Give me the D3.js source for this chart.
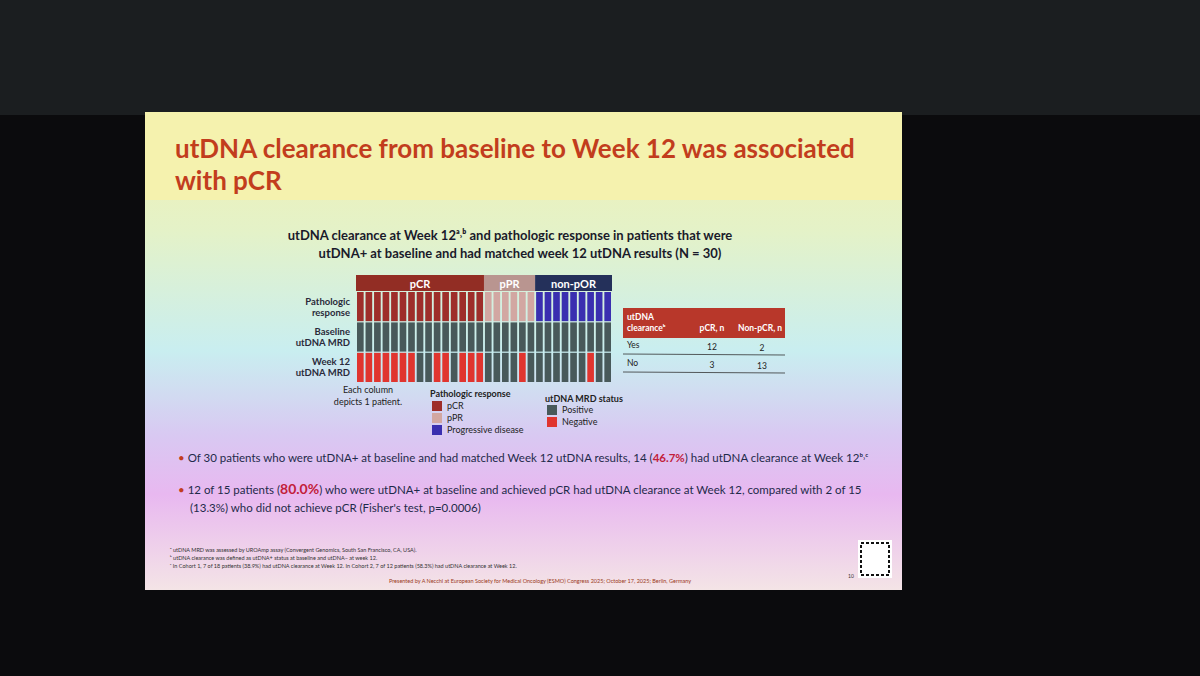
<!DOCTYPE html>
<html><head><meta charset="utf-8">
<script src="https://cdn.jsdelivr.net/npm/d3@7"></script>
<style>body{margin:0;background:#0b0b0d}</style>
</head><body>
<div id="chart"></div>
<script>
// Data
const groups = ["pCR", "pPR", "non-pOR"];
const groupCounts = [15, 6, 9];
const rows = ["Pathologic response", "Baseline utDNA MRD", "Week 12 utDNA MRD"];
// week 12 status per patient: 1 = negative (cleared), 0 = positive
const week12Negative = [1,1,1,1,1,1,1,0,0,1,1,0,1,1,1, 0,0,0,0,1,0, 0,0,0,0,0,0,1,0,0];
const tableHeader = ["utDNA clearance\u1D47", "pCR, n", "Non-pCR, n"];
const tableRows = [["Yes", 12, 2], ["No", 3, 13]];

const W = 1200, H = 676;
const svg = d3.select("#chart").append("svg").attr("width", W).attr("height", H)
  .style("font-family", "Lato, 'Open Sans', sans-serif");

const defs = svg.append("defs");
const grad = defs.append("linearGradient").attr("id", "bg").attr("x1", 0).attr("y1", 0).attr("x2", 0).attr("y2", 1);
[["0%", "#f3f0b0"], ["25%", "#e4f2c8"], ["50%", "#c9eef0"], ["68%", "#d9c8f2"], ["80%", "#e8b8f0"], ["100%", "#f4e4e6"]]
  .forEach(s => grad.append("stop").attr("offset", s[0]).attr("stop-color", s[1]));

// screen & slide
svg.append("rect").attr("width", W).attr("height", 115).attr("fill", "#1b1e20");
const slide = { x: 145, y: 112, w: 757, h: 478 };
svg.append("rect").attr("x", slide.x).attr("y", slide.y).attr("width", slide.w).attr("height", slide.h).attr("fill", "url(#bg)");
svg.append("rect").attr("x", slide.x).attr("y", slide.y).attr("width", slide.w).attr("height", 88).attr("fill", "#f5f2ae");

svg.append("text").attr("x", 175).attr("y", 158).attr("fill", "#c23d1d").attr("font-size", 26).attr("font-weight", "bold")
  .text("utDNA clearance from baseline to Week 12 was associated");
svg.append("text").attr("x", 175).attr("y", 190).attr("fill", "#c23d1d").attr("font-size", 26).attr("font-weight", "bold")
  .text("with pCR");

svg.append("text").attr("x", 510).attr("y", 240).attr("text-anchor", "middle").attr("font-size", 13).attr("font-weight", "bold").attr("fill", "#1a1a2a")
  .text("utDNA clearance at Week 12\u1D43\u02D2\u1D47 and pathologic response in patients that were");
svg.append("text").attr("x", 520).attr("y", 258).attr("text-anchor", "middle").attr("font-size", 13).attr("font-weight", "bold").attr("fill", "#1a1a2a")
  .text("utDNA+ at baseline and had matched week 12 utDNA results (N = 30)");

// heatmap
const patients = [];
groups.forEach((g, gi) => { for (let i = 0; i < groupCounts[gi]; i++) patients.push({ group: g, idx: patients.length }); });
patients.forEach(p => p.neg = week12Negative[p.idx]);

const x = d3.scaleBand().domain(d3.range(patients.length)).range([357, 611]).paddingInner(0.22);
const y = d3.scaleBand().domain(rows).range([292, 382]).paddingInner(0.04);
const respColors = { "pCR": "#9e2e2a", "pPR": "#d2a7a2", "non-pOR": "#3a2fb0" };
const headColors = { "pCR": "#922d24", "pPR": "#b99590", "non-pOR": "#24305a" };

// group header bars
let start = 0;
groups.forEach((g, gi) => {
  const x0 = x(start), x1 = x(start + groupCounts[gi] - 1) + x.bandwidth();
  svg.append("rect").attr("x", x0 - 1).attr("y", 275).attr("width", x1 - x0 + 2).attr("height", 16).attr("fill", headColors[g]);
  svg.append("text").attr("x", (x0 + x1) / 2).attr("y", 288).attr("text-anchor", "middle").attr("fill", "#fff")
    .attr("font-size", 11).attr("font-weight", "bold").text(g);
  start += groupCounts[gi];
});

const rowFill = [
  p => respColors[p.group],
  p => "#48595a",
  p => p.neg ? "#e0352f" : "#48595a"
];
rows.forEach((r, ri) => {
  svg.append("g").selectAll("rect").data(patients).join("rect")
    .attr("x", p => x(p.idx)).attr("y", y(r)).attr("width", x.bandwidth()).attr("height", y.bandwidth())
    .style("fill", rowFill[ri]);
});

const rowLabels = [["Pathologic", "response"], ["Baseline", "utDNA MRD"], ["Week 12", "utDNA MRD"]];
rows.forEach((r, i) => {
  const t = svg.append("text").attr("x", 350).attr("y", y(r) + y.bandwidth() / 2 - 2).attr("text-anchor", "end")
    .attr("font-size", 9.5).attr("font-weight", "bold").attr("fill", "#2a2a3a");
  t.append("tspan").attr("x", 350).text(rowLabels[i][0]);
  t.append("tspan").attr("x", 350).attr("dy", 11).text(rowLabels[i][1]);
});

// legends
svg.append("text").attr("x", 368).attr("y", 393).attr("text-anchor", "middle").attr("font-size", 9).attr("fill", "#222")
  .text("Each column");
svg.append("text").attr("x", 368).attr("y", 405).attr("text-anchor", "middle").attr("font-size", 9).attr("fill", "#222")
  .text("depicts 1 patient.");
svg.append("text").attr("x", 430).attr("y", 397).attr("font-size", 9).attr("font-weight", "bold").attr("fill", "#222").text("Pathologic response");
[["pCR", "#9e2e2a"], ["pPR", "#d2a7a2"], ["Progressive disease", "#3a2fb0"]].forEach((d, i) => {
  svg.append("rect").attr("x", 432).attr("y", 401 + i * 12).attr("width", 10).attr("height", 10).attr("fill", d[1]);
  svg.append("text").attr("x", 447).attr("y", 409 + i * 12).attr("font-size", 9).attr("fill", "#222").text(d[0]);
});
svg.append("text").attr("x", 545).attr("y", 402).attr("font-size", 9).attr("font-weight", "bold").attr("fill", "#222").text("utDNA MRD status");
[["Positive", "#48595a"], ["Negative", "#e0352f"]].forEach((d, i) => {
  svg.append("rect").attr("x", 547).attr("y", 405 + i * 12).attr("width", 10).attr("height", 10).attr("fill", d[1]);
  svg.append("text").attr("x", 562).attr("y", 413 + i * 12).attr("font-size", 9).attr("fill", "#222").text(d[0]);
});

// table
const tw = 162;
svg.append("rect").attr("x", 623).attr("y", 308).attr("width", tw).attr("height", 30).attr("fill", "#b8372a");
svg.append("text").attr("x", 627).attr("y", 320).attr("font-size", 8.5).attr("font-weight", "bold").attr("fill", "#fff").text("utDNA");
svg.append("text").attr("x", 627).attr("y", 331).attr("font-size", 8.5).attr("font-weight", "bold").attr("fill", "#fff").text("clearance\u1D47");
svg.append("text").attr("x", 712).attr("y", 331).attr("text-anchor", "middle").attr("font-size", 8.5).attr("font-weight", "bold").attr("fill", "#fff").text(tableHeader[1]);
svg.append("text").attr("x", 760).attr("y", 331).attr("text-anchor", "middle").attr("font-size", 8.5).attr("font-weight", "bold").attr("fill", "#fff").text(tableHeader[2]);
tableRows.forEach((r, i) => {
  const yy = 348 + i * 18;
  svg.append("text").attr("x", 627).attr("y", yy).attr("font-size", 8.5).attr("fill", "#222").text(r[0]);
  svg.append("text").attr("x", 712).attr("y", yy + 2).attr("text-anchor", "middle").attr("font-size", 8.5).attr("fill", "#222").text(r[1]);
  svg.append("text").attr("x", 762).attr("y", yy + 3).attr("text-anchor", "middle").attr("font-size", 8.5).attr("fill", "#222").text(r[2]);
  svg.append("line").attr("x1", 623).attr("x2", 623 + tw).attr("y1", yy + 6).attr("y2", yy + 7).attr("stroke", "#333").attr("stroke-width", 0.8);
});

// bullets
const b1 = svg.append("text").attr("x", 178).attr("y", 462).attr("font-size", 11.5).attr("fill", "#1e2a4a");
b1.append("tspan").attr("fill", "#c23d1d").text("\u2022  ");
b1.append("tspan").text("Of 30 patients who were utDNA+ at baseline and had matched Week 12 utDNA results, 14 (");
b1.append("tspan").attr("fill", "#c2203a").attr("font-weight", "bold").text("46.7%");
b1.append("tspan").text(") had utDNA clearance at Week 12\u1D47\u02D2\u1D9C");
const b2 = svg.append("text").attr("x", 178).attr("y", 494).attr("font-size", 11.5).attr("fill", "#1e2a4a");
b2.append("tspan").attr("fill", "#c23d1d").text("\u2022  ");
b2.append("tspan").text("12 of 15 patients (");
b2.append("tspan").attr("fill", "#c2203a").attr("font-weight", "bold").attr("font-size", 14).text("80.0%");
b2.append("tspan").text(") who were utDNA+ at baseline and achieved pCR had utDNA clearance at Week 12, compared with 2 of 15");
svg.append("text").attr("x", 190).attr("y", 512).attr("font-size", 11.5).attr("fill", "#1e2a4a")
  .text("(13.3%) who did not achieve pCR (Fisher's test, p=0.0006)");

// footnotes
const fn = ["\u1D43 utDNA MRD was assessed by UROAmp assay (Convergent Genomics, South San Francisco, CA, USA).",
  "\u1D47 utDNA clearance was defined as utDNA+ status at baseline and utDNA\u2212 at week 12.",
  "\u1D9C In Cohort 1, 7 of 18 patients (38.9%) had utDNA clearance at Week 12. In Cohort 2, 7 of 12 patients (58.3%) had utDNA clearance at Week 12."];
fn.forEach((t, i) => svg.append("text").attr("x", 170).attr("y", 552 + i * 8).attr("font-size", 5.5).attr("fill", "#333").text(t));
svg.append("text").attr("x", 540).attr("y", 583).attr("text-anchor", "middle").attr("font-size", 5.5).attr("fill", "#9a3a20")
  .text("Presented by A Necchi at European Society for Medical Oncology (ESMO) Congress 2025; October 17, 2025; Berlin, Germany");
svg.append("text").attr("x", 848).attr("y", 578).attr("font-size", 5).attr("fill", "#333").text("10");
// QR placeholder
svg.append("rect").attr("x", 858).attr("y", 540).attr("width", 34).attr("height", 38).attr("fill", "#fff");
svg.append("rect").attr("x", 861).attr("y", 543).attr("width", 28).attr("height", 32).attr("fill", "none").attr("stroke", "#111").attr("stroke-width", 2).attr("stroke-dasharray", "3,2");
</script>
</body></html>
